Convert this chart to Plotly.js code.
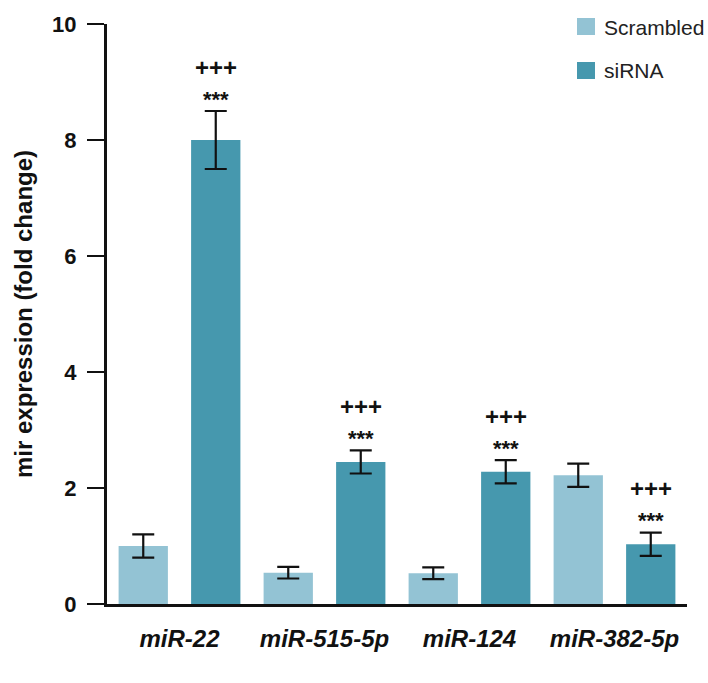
<!DOCTYPE html>
<html>
<head>
<meta charset="utf-8">
<script src="https://cdn.plot.ly/plotly-3.0.1.min.js"></script>
<style>html,body{margin:0;padding:0;background:#fff;}#chart{width:708px;height:683px;}</style>
</head>
<body>
<div id="chart"></div>
<script>
const categories = ['miR-22', 'miR-515-5p', 'miR-124', 'miR-382-5p'];
const seriesNames = ['Scrambled', 'siRNA'];
const scrambledValues = [1.0, 0.54, 0.53, 2.22];
const scrambledErrors = [0.2, 0.1, 0.1, 0.2];
const sirnaValues = [8.0, 2.45, 2.28, 1.03];
const sirnaErrors = [0.5, 0.2, 0.2, 0.2];
const starLabels = ['***', '***', '***', '***'];
const plusLabels = ['+++', '+++', '+++', '+++'];
const tickValues = [0, 2, 4, 6, 8, 10];

const FONT = 'Liberation Sans, Arial, Helvetica, sans-serif';
const COLORS = ['#93c3d4', '#4698ae'];
const catLabels = categories.map(c => '<i>' + c + '</i>');

const errStyle = {type: 'data', visible: true, color: '#111', thickness: 2.2, width: 11};

const traces = [
  {
    type: 'bar', name: seriesNames[0], x: catLabels, y: scrambledValues,
    marker: {color: COLORS[0]},
    error_y: Object.assign({array: scrambledErrors}, errStyle),
    hoverinfo: 'y'
  },
  {
    type: 'bar', name: seriesNames[1], x: catLabels, y: sirnaValues,
    marker: {color: COLORS[1]},
    error_y: Object.assign({array: sirnaErrors}, errStyle),
    hoverinfo: 'y'
  }
];

const annotations = [];
categories.forEach((c, i) => {
  const top = sirnaValues[i] + sirnaErrors[i];
  annotations.push({
    xref: 'x', yref: 'y', x: i + 0.25, y: top, yanchor: 'middle', yshift: 12,
    text: '<b>' + starLabels[i] + '</b>', showarrow: false,
    font: {family: FONT, size: 22, color: '#111'}
  });
  annotations.push({
    xref: 'x', yref: 'y', x: i + 0.25, y: top, yanchor: 'middle', yshift: 44,
    text: '<b>' + plusLabels[i] + '</b>', showarrow: false,
    font: {family: FONT, size: 24, color: '#111'}
  });
});

// hand-drawn legend (keeps the plot area fixed)
const shapes = [];
const legendTop = [1.0103, 0.9345];
seriesNames.forEach((name, k) => {
  shapes.push({
    type: 'rect', xref: 'paper', yref: 'paper',
    x0: 0.8103, x1: 0.8414, y0: legendTop[k] - 0.0293, y1: legendTop[k],
    fillcolor: COLORS[k], line: {width: 0}
  });
  annotations.push({
    xref: 'paper', yref: 'paper', x: 0.8534, y: legendTop[k] - 0.0155,
    xanchor: 'left', yanchor: 'middle', showarrow: false,
    text: name, font: {family: FONT, size: 21, color: '#222'}
  });
});

const layout = {
  width: 708, height: 683,
  margin: {l: 107, r: 21, t: 24, b: 79},
  paper_bgcolor: '#fff', plot_bgcolor: '#fff',
  barmode: 'group', bargap: 0, bargroupgap: 0.32,
  showlegend: false,
  xaxis: {
    type: 'category', showgrid: false, zeroline: false, automargin: false,
    showline: true, linecolor: '#111', linewidth: 3,
    ticks: '', ticklabelstandoff: 11,
    tickfont: {family: FONT, size: 24, color: '#111', weight: 'bold'},
    range: [-0.5, 3.5]
  },
  yaxis: {
    range: [0, 10], tickvals: tickValues, ticktext: tickValues.map(v => String(v)),
    showgrid: false, zeroline: false, automargin: false,
    showline: true, linecolor: '#111', linewidth: 3,
    ticks: 'outside', ticklen: 17, tickwidth: 2.2, tickcolor: '#111',
    ticklabelstandoff: 6,
    tickfont: {family: FONT, size: 22, color: '#111', weight: 'bold'},
    title: {text: '<b>mir expression (fold change)</b>', standoff: 13,
            font: {family: FONT, size: 24, color: '#111'}}
  },
  shapes: shapes,
  annotations: annotations
};

Plotly.newPlot('chart', traces, layout, {displayModeBar: false, staticPlot: true});
</script>
</body>
</html>
